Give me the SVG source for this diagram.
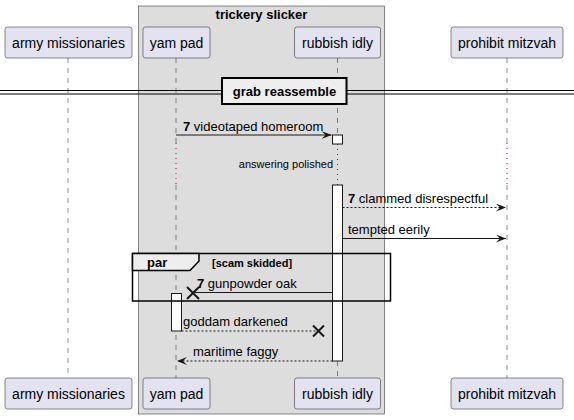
<svg xmlns="http://www.w3.org/2000/svg" width="574" height="420" viewBox="0 0 574 420">
<defs>
<style>
text{font-family:"Liberation Sans",Arial,sans-serif;fill:#000}
.p rect{fill:#E2E2F0;stroke:#181818;stroke-width:0.5}
.p text{font-size:14px}
.life{stroke:#181818;stroke-width:0.5;stroke-dasharray:5,5;fill:none}
.delay{stroke:#C00040;stroke-width:1;stroke-dasharray:1,4;fill:none}
.msg{font-size:13px}
.ln{stroke:#181818;stroke-width:1;fill:none}
.dash{stroke-dasharray:2,2}
.act{fill:#FFFFFF;stroke:#181818;stroke-width:1}
.b{font-weight:bold}
</style>
<marker id="ah" viewBox="0 0 10 8" refX="10" refY="4" markerWidth="10" markerHeight="8" orient="auto" markerUnits="userSpaceOnUse">
<polygon points="0,0 10,4 0,8 4,4" fill="#181818"/>
</marker>
</defs>

<g id="box-trickery-slicker">
<rect x="138.5" y="6" width="246" height="408" fill="#DDDDDD" stroke="#181818" stroke-width="0.5"/>
<text x="261.5" y="19" text-anchor="middle" class="b" font-size="13">trickery slicker</text>
</g>

<g id="lifelines">
<line class="life" x1="68" y1="58" x2="68" y2="378"/>
<line class="life" x1="176" y1="58" x2="176" y2="143"/>
<line class="delay" x1="176" y1="143" x2="176" y2="185"/>
<line class="life" x1="176" y1="185" x2="176" y2="378"/>
<line class="life" x1="337.5" y1="58" x2="337.5" y2="135"/>
<line class="delay" x1="337.5" y1="144" x2="337.5" y2="185"/>
<line class="life" x1="337.5" y1="361" x2="337.5" y2="378"/>
<line class="life" x1="507" y1="58" x2="507" y2="143"/>
<line class="delay" x1="507" y1="143" x2="507" y2="185"/>
<line class="life" x1="507" y1="185" x2="507" y2="378"/>
</g>

<g id="army-missionaries" class="p">
<rect x="5" y="27" width="127" height="31" rx="2.5"/>
<text x="68.5" y="48" text-anchor="middle">army missionaries</text>
<rect x="5" y="378" width="127" height="31" rx="2.5"/>
<text x="68.5" y="399" text-anchor="middle">army missionaries</text>
</g>
<g id="yam-pad" class="p">
<rect x="143" y="27" width="67" height="31" rx="2.5"/>
<text x="176.5" y="48" text-anchor="middle">yam pad</text>
<rect x="143" y="378" width="67" height="31" rx="2.5"/>
<text x="176.5" y="399" text-anchor="middle">yam pad</text>
</g>
<g id="rubbish-idly" class="p">
<rect x="294.5" y="27" width="86" height="31" rx="2.5"/>
<text x="337.5" y="48" text-anchor="middle">rubbish idly</text>
<rect x="294.5" y="378" width="86" height="31" rx="2.5"/>
<text x="337.5" y="399" text-anchor="middle">rubbish idly</text>
</g>
<g id="prohibit-mitzvah" class="p">
<rect x="451" y="27" width="112" height="31" rx="2.5"/>
<text x="507" y="48" text-anchor="middle">prohibit mitzvah</text>
<rect x="451" y="378" width="112" height="31" rx="2.5"/>
<text x="507" y="399" text-anchor="middle">prohibit mitzvah</text>
</g>

<g id="divider-grab-reassemble">
<line x1="0" y1="90.5" x2="574" y2="90.5" stroke="#000" stroke-width="1"/>
<line x1="0" y1="94" x2="574" y2="94" stroke="#000" stroke-width="1"/>
<rect x="222" y="78" width="124.5" height="26" fill="#EEEEEE" stroke="#000" stroke-width="2"/>
<text x="284.5" y="96" text-anchor="middle" class="b" font-size="13">grab reassemble</text>
</g>

<g id="activations">
<rect class="act" x="332.5" y="135" width="10" height="9"/>
<rect class="act" x="332.5" y="185" width="10" height="176"/>
<rect class="act" x="171.5" y="293.5" width="10" height="37.5"/>
</g>

<g id="par-frame">
<rect x="132.5" y="253.5" width="258" height="47.5" fill="none" stroke="#000" stroke-width="1.5"/>
<path d="M132.5,253.5 H199 V261 L190,270.5 H132.5 Z" fill="#EEEEEE" stroke="#000" stroke-width="1.5"/>
<text x="147" y="267" class="b" font-size="13">par</text>
<text x="212" y="267" class="b" font-size="11">[scam skidded]</text>
</g>

<g id="connectors">
<line class="ln" x1="176" y1="135" x2="331.5" y2="135" marker-end="url(#ah)"/>
<text class="msg" x="183" y="131"><tspan class="b">7</tspan> videotaped homeroom</text>
<text x="333" y="168" text-anchor="end" font-size="11">answering polished</text>

<line class="ln dash" x1="342.5" y1="207.5" x2="506" y2="207.5" marker-end="url(#ah)"/>
<text class="msg" x="348" y="203"><tspan class="b">7</tspan> clammed disrespectful</text>

<line class="ln" x1="342.5" y1="238.5" x2="506" y2="238.5" marker-end="url(#ah)"/>
<text class="msg" x="348" y="234">tempted eerily</text>

<line class="ln" x1="332.5" y1="292.5" x2="193" y2="292.5"/>
<path d="M187,287 L199,299 M199,287 L187,299" stroke="#181818" stroke-width="2" fill="none"/>
<text class="msg" x="197" y="288"><tspan class="b">7</tspan> gunpowder oak</text>

<line class="ln dash" x1="181.5" y1="331" x2="318" y2="331"/>
<path d="M313,325.5 L324,336.5 M324,325.5 L313,336.5" stroke="#181818" stroke-width="2" fill="none"/>
<text class="msg" x="183" y="326">goddam darkened</text>

<line class="ln dash" x1="332.5" y1="361" x2="177" y2="361" marker-end="url(#ah)"/>
<text class="msg" x="193" y="356">maritime faggy</text>
</g>
</svg>
